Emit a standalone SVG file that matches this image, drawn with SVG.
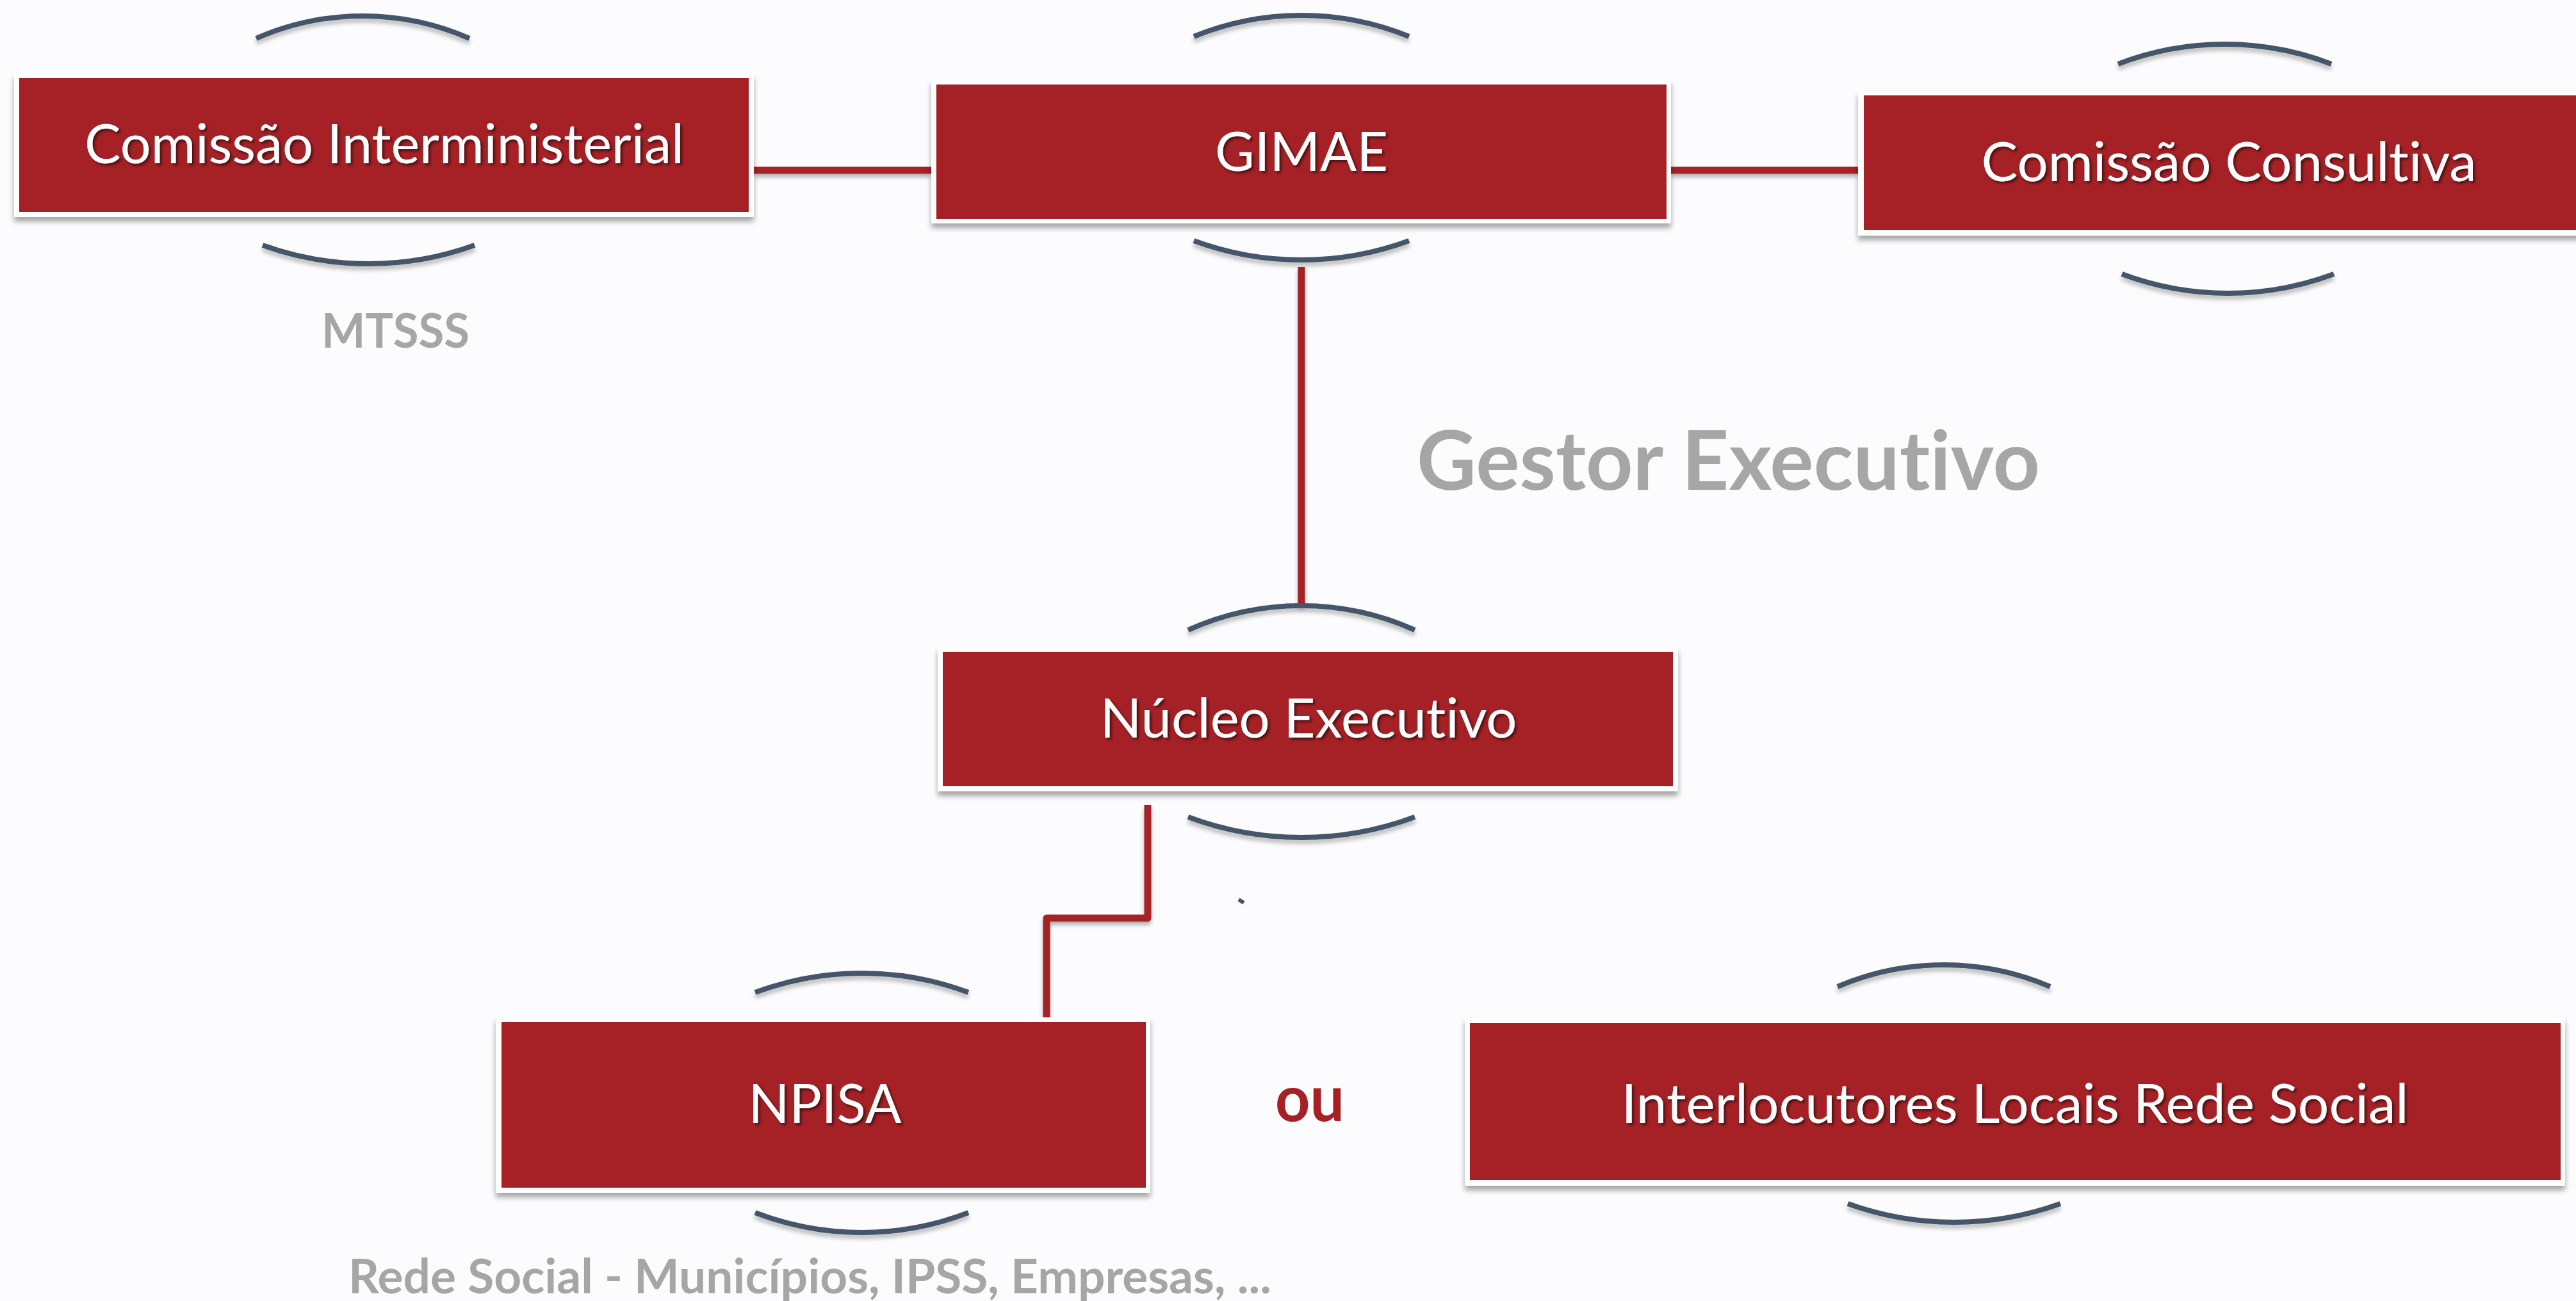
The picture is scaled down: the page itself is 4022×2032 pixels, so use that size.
<svg xmlns="http://www.w3.org/2000/svg" width="4022" height="2032" viewBox="0 0 4022 2032">
  <defs>
    <filter id="boxShadow" x="-5%" y="-10%" width="110%" height="130%">
      <feDropShadow dx="0" dy="7" stdDeviation="4" flood-color="#000" flood-opacity="0.35"/>
    </filter>
    <filter id="lineShadow" filterUnits="userSpaceOnUse" x="0" y="0" width="4022" height="2032">
      <feDropShadow dx="0" dy="5" stdDeviation="3" flood-color="#000" flood-opacity="0.3"/>
    </filter>
    <filter id="arcShadow" x="-10%" y="-50%" width="120%" height="250%">
      <feDropShadow dx="0" dy="6" stdDeviation="3" flood-color="#000" flood-opacity="0.25"/>
    </filter>
    <filter id="textShadow" x="-5%" y="-20%" width="110%" height="150%">
      <feDropShadow dx="3" dy="3" stdDeviation="2" flood-color="#000" flood-opacity="0.55"/>
    </filter>
  </defs>
  <style>
    text { font-variant-ligatures: none; font-feature-settings: "liga" 0, "clig" 0; }
    .frame { fill: #ffffff; filter: url(#boxShadow); }
    .box { fill: #a52126; }
    .label { font-family: Lato, "Liberation Sans", sans-serif; font-size: 86px; fill: #ffffff; text-anchor: middle; filter: url(#textShadow); }
    .note { font-family: Lato, "Liberation Sans", sans-serif; font-weight: bold; fill: #a6a6a6; }
    .arc { fill: none; stroke: #44546a; stroke-width: 8; filter: url(#arcShadow); }
    .conn { fill: none; stroke: #a52126; stroke-width: 11; stroke-linejoin: round; filter: url(#lineShadow); }
  </style>
  <rect x="0" y="0" width="4022" height="2032" fill="#fcfbfd"/>

  <g id="connectors">
    <path class="conn" d="M1177,266 H1454"/>
    <path class="conn" d="M2609,266 H2901"/>
    <path class="conn" d="M2032,417 V946"/>
    <path class="conn" d="M1792,1257 V1434 H1634 V1589"/>
  </g>

  <g id="node-comissao-interministerial">
    <path class="arc" d="M400,60 A413.5,413.5 0 0 1 733,60"/>
    <rect class="frame" x="22" y="115" width="1155" height="224"/>
    <rect class="box" x="30" y="122" width="1139" height="209"/>
    <text class="label" x="600" y="255" textLength="936" lengthAdjust="spacingAndGlyphs">Comissão Interministerial</text>
    <path class="arc" d="M410,383 A486.7,486.7 0 0 0 741,383"/>
  </g>

  <g id="label-mtsss">
    <text class="note" x="502" y="543" font-size="75" textLength="231" lengthAdjust="spacingAndGlyphs">MTSSS</text>
  </g>

  <g id="node-gimae">
    <path class="arc" d="M1864,57 A444,444 0 0 1 2200,57"/>
    <rect class="frame" x="1454" y="124" width="1155" height="225"/>
    <rect class="box" x="1462" y="132" width="1140" height="210"/>
    <text class="label" x="2032" y="267" textLength="270" lengthAdjust="spacingAndGlyphs">GIMAE</text>
    <path class="arc" d="M1864,376 A485,485 0 0 0 2200,376"/>
  </g>

  <g id="node-comissao-consultiva">
    <path class="arc" d="M3307,100 A462.6,462.6 0 0 1 3640,100"/>
    <rect class="frame" x="2901" y="142" width="1169" height="226"/>
    <rect class="box" x="2910" y="149" width="1150" height="210"/>
    <text class="label" x="3480" y="283" textLength="773" lengthAdjust="spacingAndGlyphs">Comissão Consultiva</text>
    <path class="arc" d="M3313,428 A471.5,471.5 0 0 0 3644,428"/>
  </g>

  <g id="label-gestor-executivo">
    <text class="note" x="2212" y="765" font-size="128" textLength="973" lengthAdjust="spacingAndGlyphs">Gestor Executivo</text>
  </g>

  <g id="node-nucleo-executivo">
    <path class="arc" d="M1855,984 A431,431 0 0 1 2209,984"/>
    <rect class="frame" x="1464" y="1011" width="1156" height="225"/>
    <rect class="box" x="1472" y="1018" width="1140" height="210"/>
    <text class="label" x="2043" y="1152" textLength="651" lengthAdjust="spacingAndGlyphs">Núcleo Executivo</text>
    <path class="arc" d="M1855,1276 A505.5,505.5 0 0 0 2209,1276"/>
  </g>

  <g id="mark">
    <line x1="1934" y1="1405" x2="1942" y2="1410" stroke="#44546a" stroke-width="6"/>
  </g>

  <g id="node-npisa">
    <path class="arc" d="M1179,1550 A477,477 0 0 1 1512,1550"/>
    <rect class="frame" x="774" y="1589" width="1022" height="274"/>
    <rect class="box" x="783" y="1596" width="1006" height="259"/>
    <text class="label" x="1288" y="1754" textLength="239" lengthAdjust="spacingAndGlyphs">NPISA</text>
    <path class="arc" d="M1179,1894 A462.6,462.6 0 0 0 1512,1894"/>
  </g>

  <g id="label-ou">
    <text x="1991" y="1751" font-family="Lato, 'Liberation Sans', sans-serif" font-weight="bold" font-size="100" fill="#a52126" textLength="108" lengthAdjust="spacingAndGlyphs">ou</text>
  </g>

  <g id="node-interlocutores">
    <path class="arc" d="M2869,1541 A422,422 0 0 1 3201,1541"/>
    <rect class="frame" x="2287" y="1590" width="1718" height="262"/>
    <rect class="box" x="2295" y="1598" width="1703" height="245"/>
    <text class="label" x="3146" y="1754" textLength="1229" lengthAdjust="spacingAndGlyphs">Interlocutores Locais Rede Social</text>
    <path class="arc" d="M2885,1880 A489.6,489.6 0 0 0 3217,1880"/>
  </g>

  <g id="label-rede-social">
    <text class="note" x="544" y="2020" font-size="75" textLength="1441" lengthAdjust="spacingAndGlyphs">Rede Social - Municípios, IPSS, Empresas, ...</text>
  </g>
</svg>
